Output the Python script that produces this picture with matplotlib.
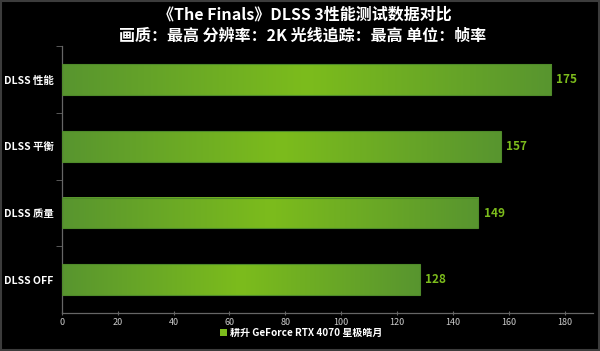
import matplotlib
matplotlib.use("Agg")
import matplotlib.pyplot as plt
import numpy as np
from matplotlib.colors import LinearSegmentedColormap
from matplotlib.patches import Rectangle

plt.rcParams['font.family'] = ['Noto Sans CJK SC', 'DejaVu Sans']

categories = ['DLSS 性能', 'DLSS 平衡', 'DLSS 质量', 'DLSS OFF']
values = [175, 157, 149, 128]
xticks = [0, 20, 40, 60, 80, 100, 120, 140, 160, 180]
title1 = '《The Finals》DLSS 3性能测试数据对比'
title2 = '画质：最高 分辨率：2K 光线追踪：最高 单位：帧率'
legend_label = '耕升 GeForce RTX 4070 星极皓月'

fig = plt.figure(figsize=(6.0, 3.51), dpi=100, facecolor='black')
ax = fig.add_axes([0.103, 0.108, 0.885, 0.760], facecolor='black')

cmap = LinearSegmentedColormap.from_list('g', ['#58952f', '#7cbc1c', '#58952f'])
grad = np.linspace(0, 1, 256).reshape(1, -1)
bar_h = 0.46
for i, v in enumerate(values):
    ax.imshow(grad, cmap=cmap, aspect='auto', extent=(0, v, i + bar_h / 2, i - bar_h / 2),
              interpolation='bilinear', zorder=2)
    ax.add_patch(Rectangle((0, i - bar_h / 2), v, bar_h, facecolor='none', edgecolor='#4f8a2a',
                           lw=0.8, zorder=3))
    ax.text(v + 2, i, str(v), color='#7cbc1c', fontsize=8.5, fontweight='bold', va='center',
            ha='left', zorder=4)

ax.set_xlim(0, 190)
ax.set_ylim(3.5, -0.5)
ax.set_yticks(range(len(categories)))
ax.set_yticklabels(categories, color='white', fontsize=7.5, fontweight='bold')
ax.set_yticks([-0.5, 0.5, 1.5, 2.5], minor=True)
ax.tick_params(axis='y', which='major', length=0, pad=6)
ax.tick_params(axis='y', which='minor', length=4, color='#666666')
ax.set_xticks(xticks)
ax.tick_params(axis='x', colors='#cccccc', labelsize=6.5, length=3, direction='inout',
               color='#666666', pad=2)
for s in ['top', 'right']:
    ax.spines[s].set_visible(False)
for s in ['left', 'bottom']:
    ax.spines[s].set_color('#666666')
    ax.spines[s].set_linewidth(0.9)

fig.text(0.508, 0.958, title1, color='white', fontsize=11.5, fontweight='bold', ha='center', va='center')
fig.text(0.505, 0.898, title2, color='white', fontsize=11.5, fontweight='bold', ha='center', va='center')

fig.patches.append(Rectangle((220 / 600, 1 - 336 / 351), 7 / 600, 7 / 351, transform=fig.transFigure,
                             facecolor='#7cbc1c', edgecolor='none'))
fig.text(230 / 600, 1 - 333 / 351, legend_label, color='white', fontsize=7.2, fontweight='bold',
         ha='left', va='center')

fig.patches.append(Rectangle((0.001, 0.002), 0.997, 0.996, transform=fig.transFigure,
                             facecolor='none', edgecolor='#3c3c3c', lw=1.5))

fig.savefig('out.png', dpi=100, facecolor='black')
